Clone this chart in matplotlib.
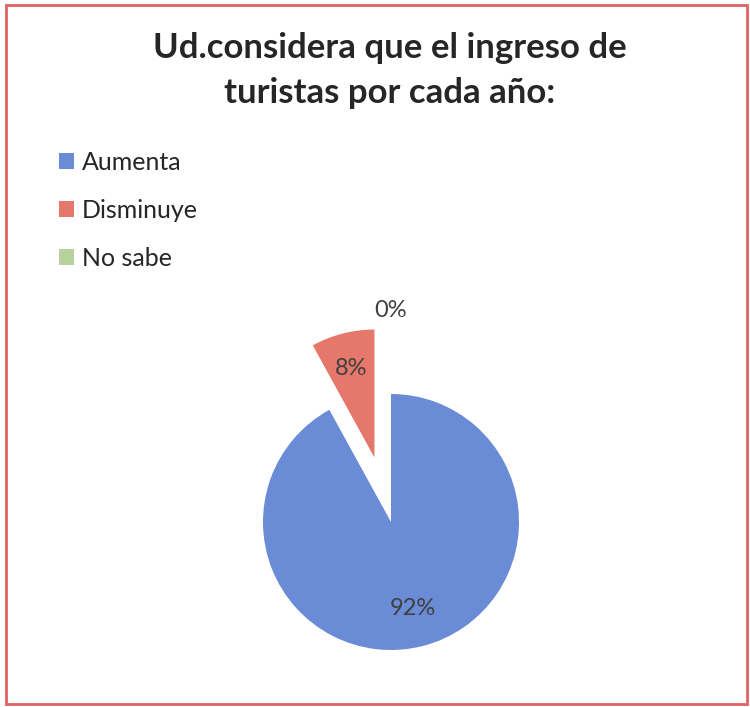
import numpy as np
import matplotlib.pyplot as plt
from matplotlib.patches import Rectangle

# data
categories = ['Aumenta', 'Disminuye', 'No sabe']
values = [92, 8, 0]
colors = ['#6a8bd6', '#e5776b', '#b7d29c']
explode = [0, 0.52, 0.4]
title = 'Ud.considera que el ingreso de\nturistas por cada año:'

W, H = 750, 707
cx, cy, r = 391, 522, 128  # pie centre / radius in pixels

fig = plt.figure(figsize=(W / 100, H / 100), dpi=100)
ax = fig.add_axes([0, 0, 1, 1])

wedges, _ = ax.pie(values, colors=colors, explode=explode, startangle=90,
                   counterclock=False, radius=1, center=(0, 0),
                   wedgeprops=dict(linewidth=0))
ax.set_xlim(-cx / r, (W - cx) / r)
ax.set_ylim(-(H - cy) / r, cy / r)
ax.set_aspect('equal')
ax.axis('off')

# percentage labels
label_dist = [0.7, 0.72, 1.25]
for w, v, d, ex in zip(wedges, values, label_dist, explode):
    ang = np.deg2rad((w.theta1 + w.theta2) / 2)
    x = (d + ex) * np.cos(ang)
    y = (d + ex) * np.sin(ang)
    ax.text(x, y, f'{v}%', ha='center', va='center', fontsize=17,
            family='Lato', color='#404040')

fig.text(0.52, 0.9, title, ha='center', va='center', fontsize=25,
         fontweight='bold', family='Lato', color='#262626', linespacing=1.5)

leg = fig.legend(wedges, categories, loc='upper left',
                 bbox_to_anchor=(0.048, 0.818), frameon=False,
                 handlelength=0.6, handleheight=0.6, handletextpad=0.35,
                 labelspacing=1.0, prop={'family': 'Lato', 'size': 18})
for t in leg.get_texts():
    t.set_color('#262626')

fig.patches.append(Rectangle((6 / W, 3 / H), 741 / W, 699 / H,
                             transform=fig.transFigure, fill=False,
                             edgecolor='#e06262', linewidth=2))

fig.savefig('out.png', dpi=100)
